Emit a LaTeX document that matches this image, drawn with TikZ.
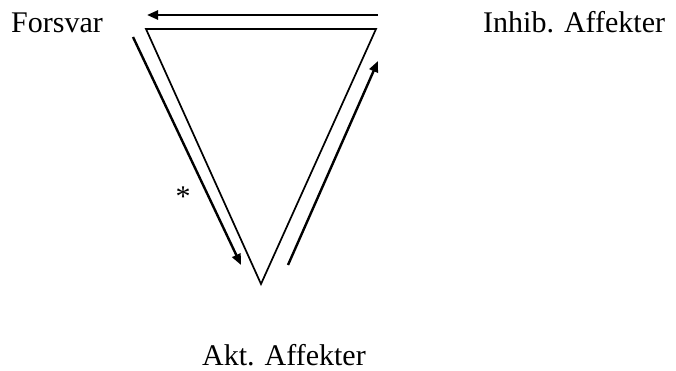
\documentclass[tikz,border=0pt]{standalone}
\usepackage{fontspec}
\setmainfont{Liberation Serif}
\usetikzlibrary{arrows.meta}

\begin{document}
\begin{tikzpicture}[
  x=1pt, y=-1pt,
  font=\fontsize{30}{36}\selectfont,
  label/.style={inner sep=0pt, anchor=base west},
  edge/.style={black, line width=1.7pt},
  flow/.style={-{Triangle[length=11pt,width=9pt]}, black, line width=2.4pt},
]
\useasboundingbox (0,0) rectangle (676,371);

% Triangle corners
\coordinate (tl) at (146,29);
\coordinate (tr) at (376,29);
\coordinate (bot) at (261,284);
\draw[edge, line join=miter] (tl) -- (tr) -- (bot) -- cycle;

% Arrow ends
\coordinate (topstart) at (378,15);
\coordinate (topend) at (147,15);
\coordinate (leftstart) at (133,37);
\coordinate (leftend) at (241,265);
\coordinate (rightstart) at (288,265);
\coordinate (rightend) at (378,61);

\draw[flow] (topstart) -- (topend);
\draw[flow] (leftstart) -- (leftend);
\draw[flow] (rightstart) -- (rightend);

% Labels
\node[label] (forsvar) at (11,33) {Forsvar};
\node[label] (inhib) at (483,33) {Inhib. Affekter};
\node[label] (akt) at (202,365) {Akt. Affekter};
\node[label, anchor=base] (star) at (183,207) {*};

\end{tikzpicture}
\end{document}
